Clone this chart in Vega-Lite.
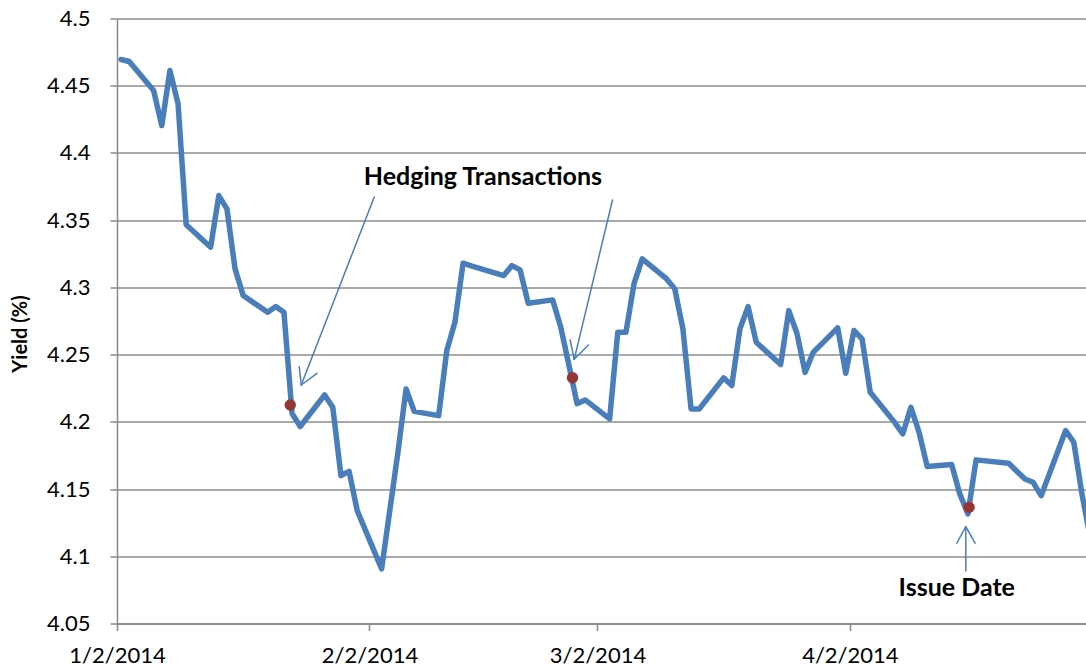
{
  "$schema": "https://vega.github.io/schema/vega-lite/v6.json",
  "width": 969,
  "height": 605,
  "autosize": {"type": "none"},
  "padding": {"left": 117, "top": 18.5, "right": 0, "bottom": 48.5},
  "background": "white",
  "config": {
    "view": {"stroke": null},
    "font": "Lato",
    "axis": {
      "labelFont": "Lato",
      "labelFontSize": 22,
      "labelColor": "#000000",
      "domainColor": "#898989",
      "domainWidth": 1.5,
      "tickColor": "#898989",
      "tickWidth": 1.5,
      "tickSize": 7,
      "gridColor": "#8c8c8c",
      "gridWidth": 1.5
    }
  },
  "layer": [
    {
      "data": {
        "values": [
          {"date": "2014-01-02T12:00", "yield": 4.4695},
          {"date": "2014-01-03T12:00", "yield": 4.468},
          {"date": "2014-01-06T12:00", "yield": 4.4464},
          {"date": "2014-01-07T12:00", "yield": 4.4204},
          {"date": "2014-01-08T12:00", "yield": 4.4613},
          {"date": "2014-01-09T12:00", "yield": 4.4365},
          {"date": "2014-01-10T12:00", "yield": 4.3466},
          {"date": "2014-01-13T12:00", "yield": 4.3299},
          {"date": "2014-01-14T12:00", "yield": 4.3683},
          {"date": "2014-01-15T12:00", "yield": 4.3584},
          {"date": "2014-01-16T12:00", "yield": 4.3138},
          {"date": "2014-01-17T12:00", "yield": 4.2939},
          {"date": "2014-01-20T12:00", "yield": 4.2815},
          {"date": "2014-01-21T12:00", "yield": 4.2857},
          {"date": "2014-01-22T12:00", "yield": 4.2815},
          {"date": "2014-01-23T12:00", "yield": 4.2062},
          {"date": "2014-01-24T12:00", "yield": 4.1965},
          {"date": "2014-01-27T12:00", "yield": 4.22},
          {"date": "2014-01-28T12:00", "yield": 4.2108},
          {"date": "2014-01-29T12:00", "yield": 4.16},
          {"date": "2014-01-30T12:00", "yield": 4.1632},
          {"date": "2014-01-31T12:00", "yield": 4.134},
          {"date": "2014-02-03T12:00", "yield": 4.0906},
          {"date": "2014-02-04T12:00", "yield": 4.1341},
          {"date": "2014-02-05T12:00", "yield": 4.1773},
          {"date": "2014-02-06T12:00", "yield": 4.2245},
          {"date": "2014-02-07T12:00", "yield": 4.2078},
          {"date": "2014-02-10T12:00", "yield": 4.2046},
          {"date": "2014-02-11T12:00", "yield": 4.253},
          {"date": "2014-02-12T12:00", "yield": 4.274},
          {"date": "2014-02-13T12:00", "yield": 4.318},
          {"date": "2014-02-14T12:00", "yield": 4.316},
          {"date": "2014-02-18T12:00", "yield": 4.3088},
          {"date": "2014-02-19T12:00", "yield": 4.3162},
          {"date": "2014-02-20T12:00", "yield": 4.313},
          {"date": "2014-02-21T12:00", "yield": 4.2882},
          {"date": "2014-02-24T12:00", "yield": 4.2907},
          {"date": "2014-02-25T12:00", "yield": 4.2703},
          {"date": "2014-02-26T12:00", "yield": 4.2422},
          {"date": "2014-02-27T12:00", "yield": 4.2135},
          {"date": "2014-02-28T12:00", "yield": 4.2163},
          {"date": "2014-03-03T12:00", "yield": 4.2022},
          {"date": "2014-03-04T12:00", "yield": 4.2666},
          {"date": "2014-03-05T12:00", "yield": 4.2666},
          {"date": "2014-03-06T12:00", "yield": 4.303},
          {"date": "2014-03-07T12:00", "yield": 4.3212},
          {"date": "2014-03-10T12:00", "yield": 4.3063},
          {"date": "2014-03-11T12:00", "yield": 4.2989},
          {"date": "2014-03-12T12:00", "yield": 4.2691},
          {"date": "2014-03-13T12:00", "yield": 4.2096},
          {"date": "2014-03-14T12:00", "yield": 4.2096},
          {"date": "2014-03-17T12:00", "yield": 4.2327},
          {"date": "2014-03-18T12:00", "yield": 4.227},
          {"date": "2014-03-19T12:00", "yield": 4.2691},
          {"date": "2014-03-20T12:00", "yield": 4.2857},
          {"date": "2014-03-21T12:00", "yield": 4.2592},
          {"date": "2014-03-24T12:00", "yield": 4.2426},
          {"date": "2014-03-25T12:00", "yield": 4.2827},
          {"date": "2014-03-26T12:00", "yield": 4.2659},
          {"date": "2014-03-27T12:00", "yield": 4.2368},
          {"date": "2014-03-28T12:00", "yield": 4.2517},
          {"date": "2014-03-31T12:00", "yield": 4.2699},
          {"date": "2014-04-01T12:00", "yield": 4.2361},
          {"date": "2014-04-02T12:00", "yield": 4.2679},
          {"date": "2014-04-03T12:00", "yield": 4.2617},
          {"date": "2014-04-04T12:00", "yield": 4.222},
          {"date": "2014-04-07T12:00", "yield": 4.1996},
          {"date": "2014-04-08T12:00", "yield": 4.1911},
          {"date": "2014-04-09T12:00", "yield": 4.2108},
          {"date": "2014-04-10T12:00", "yield": 4.1922},
          {"date": "2014-04-11T12:00", "yield": 4.1667},
          {"date": "2014-04-14T12:00", "yield": 4.1682},
          {"date": "2014-04-15T12:00", "yield": 4.1464},
          {"date": "2014-04-16T12:00", "yield": 4.1315},
          {"date": "2014-04-17T12:00", "yield": 4.1717},
          {"date": "2014-04-21T12:00", "yield": 4.1692},
          {"date": "2014-04-22T12:00", "yield": 4.1633},
          {"date": "2014-04-23T12:00", "yield": 4.1575},
          {"date": "2014-04-24T12:00", "yield": 4.155},
          {"date": "2014-04-25T12:00", "yield": 4.1451},
          {"date": "2014-04-28T12:00", "yield": 4.1935},
          {"date": "2014-04-29T12:00", "yield": 4.1848},
          {"date": "2014-04-30T12:00", "yield": 4.1464},
          {"date": "2014-05-01T12:00", "yield": 4.1146}
        ]
      },
      "mark": {"type": "line", "color": "#4a7ebb", "strokeWidth": 5.5, "strokeJoin": "round", "strokeCap": "round", "clip": true},
      "encoding": {
        "x": {
          "field": "date",
          "type": "temporal",
          "scale": {"domain": [{"year": 2014, "month": 1, "date": 2}, {"year": 2014, "month": 5, "date": 1}]},
          "axis": {
            "title": null,
            "grid": false,
            "values": [
              {"year": 2014, "month": 1, "date": 2},
              {"year": 2014, "month": 2, "date": 2},
              {"year": 2014, "month": 3, "date": 2},
              {"year": 2014, "month": 4, "date": 2}
            ],
            "format": "%-m/%-d/%Y",
            "labelPadding": 15,
            "labelFlush": false,
            "labelOverlap": false
          }
        },
        "y": {
          "field": "yield",
          "type": "quantitative",
          "scale": {"domain": [4.05, 4.5], "nice": false, "zero": false},
          "axis": {
            "title": "Yield (%)",
            "titleFont": "Lato",
            "titleFontSize": 20,
            "titleFontWeight": "bold",
            "titleColor": "#000000",
            "titleAngle": -90,
            "titleX": -97,
            "titleY": 315,
            "titleAlign": "center",
            "titleBaseline": "middle",
            "values": [4.05, 4.1, 4.15, 4.2, 4.25, 4.3, 4.35, 4.4, 4.45, 4.5],
            "format": ".2~f",
            "labelPadding": 20,
            "labelFlush": false,
            "labelOverlap": false,
            "grid": true
          }
        }
      }
    },
    {
      "data": {
        "values": [
          {"date": "2014-01-23T06:40", "yield": 4.2125},
          {"date": "2014-02-26T22:30", "yield": 4.2328},
          {"date": "2014-04-16T15:20", "yield": 4.1364}
        ]
      },
      "mark": {"type": "point", "filled": true, "color": "#943634", "opacity": 1, "size": 130},
      "encoding": {
        "x": {"field": "date", "type": "temporal"},
        "y": {"field": "yield", "type": "quantitative"}
      }
    },
    {
      "data": {
        "values": [
          {"xa": "2014-02-02T14:10", "ya": 4.3672, "xb": "2014-01-24T15:05", "yb": 4.2274},
          {"xa": "2014-01-24T09:10", "ya": 4.241, "xb": "2014-01-24T15:05", "yb": 4.2274},
          {"xa": "2014-01-26T13:25", "ya": 4.2361, "xb": "2014-01-24T15:05", "yb": 4.2274},
          {"xa": "2014-03-03T20:25", "ya": 4.365, "xb": "2014-02-27T03:35", "yb": 4.2465},
          {"xa": "2014-02-26T15:35", "ya": 4.2609, "xb": "2014-02-27T03:35", "yb": 4.2465},
          {"xa": "2014-02-28T21:35", "ya": 4.2571, "xb": "2014-02-27T03:35", "yb": 4.2465},
          {"xa": "2014-04-16T05:45", "ya": 4.089, "xb": "2014-04-16T05:45", "yb": 4.122},
          {"xa": "2014-04-15T03:10", "ya": 4.1097, "xb": "2014-04-16T05:45", "yb": 4.122},
          {"xa": "2014-04-17T09:05", "ya": 4.1097, "xb": "2014-04-16T05:45", "yb": 4.122}
        ]
      },
      "mark": {"type": "rule", "color": "#4a7ebb", "strokeWidth": 1.5, "strokeCap": "round"},
      "encoding": {
        "x": {"field": "xa", "type": "temporal"},
        "y": {"field": "ya", "type": "quantitative"},
        "x2": {"field": "xb"},
        "y2": {"field": "yb"}
      }
    },
    {
      "data": {
        "values": [
          {"date": "2014-02-15T22:30", "yield": 4.3821, "label": "Hedging Transactions"},
          {"date": "2014-04-15T03:10", "yield": 4.0763, "label": "Issue Date"}
        ]
      },
      "mark": {"type": "text", "font": "Lato", "fontSize": 25, "fontWeight": "bold", "color": "#000000", "align": "center", "baseline": "middle"},
      "encoding": {
        "x": {"field": "date", "type": "temporal"},
        "y": {"field": "yield", "type": "quantitative"},
        "text": {"field": "label"}
      }
    }
  ]
}
